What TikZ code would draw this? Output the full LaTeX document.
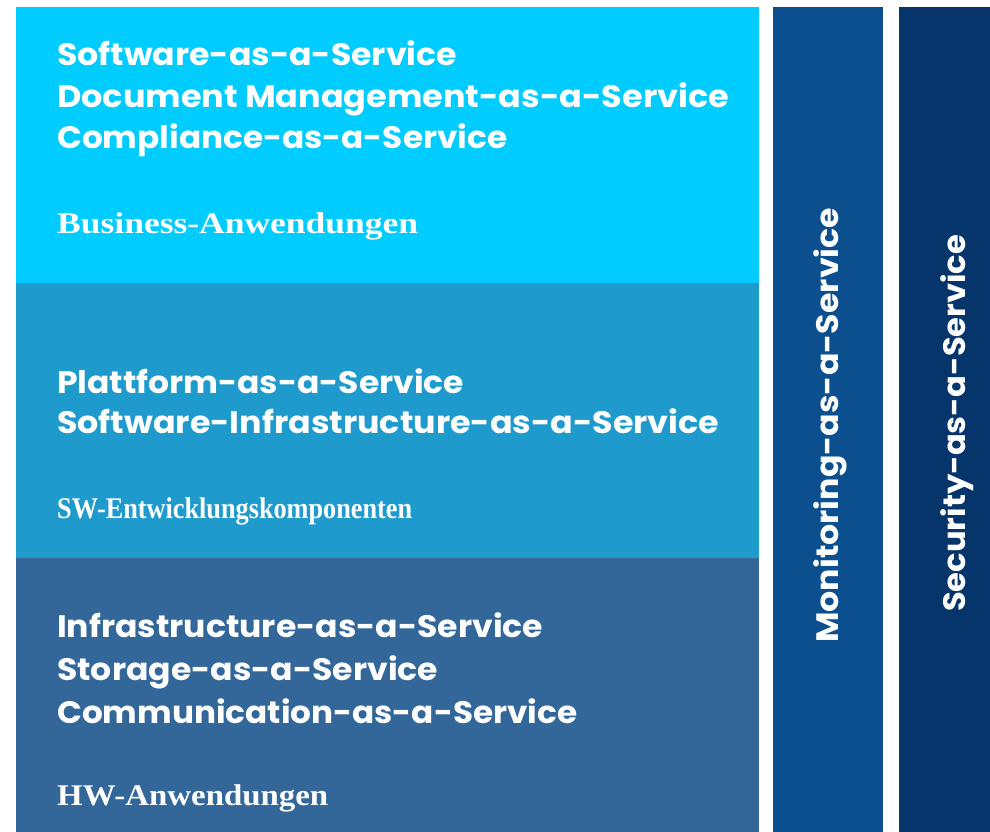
\documentclass[tikz,border=0pt]{standalone}
\usepackage{fontspec}
\usepackage{graphicx}
\setmainfont{Liberation Serif}
\newfontfamily\geosans{Poppins}
\definecolor{layerA}{HTML}{00CCFF}
\definecolor{layerB}{HTML}{1E9BCC}
\definecolor{layerC}{HTML}{336699}
\definecolor{colM}{HTML}{0B4F8F}
\definecolor{colS}{HTML}{05356B}
\newcommand{\fitw}[2]{\resizebox{#1pt}{\height}{#2}}
\tikzset{
  svc/.style={anchor=base west, inner sep=0pt, text=white, font=\geosans\bfseries\fontsize{31}{31}\selectfont},
  cat/.style={anchor=base west, inner sep=0pt, text=white, font=\bfseries\fontsize{30}{30}\selectfont},
  vsvc/.style={svc, rotate=90},
  band/.style={draw=none}
}
\begin{document}
\begin{tikzpicture}[x=1pt,y=-1pt]
\fill[white] (0,0) rectangle (990,832);
\useasboundingbox (0,0) rectangle (990,832);
\fill[layerA] (16,7) rectangle (759,283);
\fill[layerB] (16,283) rectangle (759,558);
\fill[layerC] (16,558) rectangle (759,832);
\fill[colM] (773,7) rectangle (883,832);
\fill[colS] (899,7) rectangle (990,832);
% top layer
\node[svc] (saas) at (57,66) {\fitw{400}{Software-as-a-Service}};
\node[svc] (dmaas) at (57,107.5) {\fitw{672}{Document Management-as-a-Service}};
\node[svc] (caas) at (57,149) {\fitw{450}{Compliance-as-a-Service}};
\node[cat] (biz) at (57,233) {\fitw{361}{Business-Anwendungen}};
% middle layer
\node[svc] (paas) at (57,393) {\fitw{407}{Plattform-as-a-Service}};
\node[svc] (siaas) at (57,433) {\fitw{662}{Software-Infrastructure-as-a-Service}};
\node[cat] (swe) at (57,518) {\fitw{355}{SW-Entwicklungskomponenten}};
% bottom layer
\node[svc] (iaas) at (57,637) {\fitw{486}{Infrastructure-as-a-Service}};
\node[svc] (staas) at (57,680) {\fitw{381}{Storage-as-a-Service}};
\node[svc] (comaas) at (57,723) {\fitw{520}{Communication-as-a-Service}};
\node[cat] (hw) at (57,805) {\fitw{271}{HW-Anwendungen}};
% columns
\node[vsvc] (mon) at (838,643) {\fitw{435}{Monitoring-as-a-Service}};
\node[vsvc] (sec) at (965,612) {\fitw{377}{Security-as-a-Service}};
\end{tikzpicture}
\end{document}
